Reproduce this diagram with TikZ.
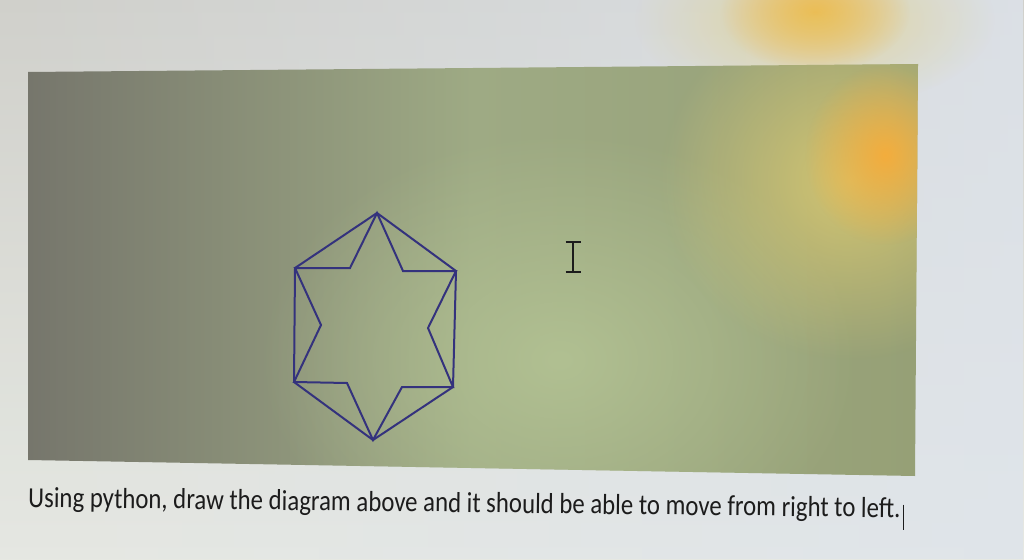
\documentclass[tikz,border=0pt]{standalone}
\usepackage{fontspec}
\usetikzlibrary{calc,fadings}
\setmainfont{Carlito}
\definecolor{paperT}{RGB}{208,208,203}
\definecolor{paperB}{RGB}{230,232,226}
\definecolor{paperR}{RGB}{222,228,236}
\definecolor{screenL}{RGB}{118,118,108}
\definecolor{screenM}{RGB}{158,170,132}
\definecolor{screenR}{RGB}{150,160,118}
\definecolor{screenLight}{RGB}{182,198,150}
\definecolor{glow}{RGB}{246,172,58}
\definecolor{glowY}{RGB}{226,205,110}
\definecolor{starblue}{RGB}{52,50,125}
\definecolor{ink}{RGB}{28,28,28}
\tikzfading[name=radfade, inner color=transparent!0, outer color=transparent!100]
\tikzfading[name=eastfade, left color=transparent!100, right color=transparent!0]
\tikzset{
  starline/.style={draw=starblue, line width=2pt, line join=miter},
  cursorline/.style={draw=ink, line width=1.4pt},
}
\begin{document}
\begin{tikzpicture}[x=1pt,y=-1pt]
\useasboundingbox (0,0) rectangle (1024,559);
% paper / screen background
\shade[top color=paperT, bottom color=paperB] (0,0) rectangle (1024,559);
\fill[paperR, path fading=eastfade, fill opacity=0.8] (0,0) rectangle (1024,559);
\fill[glow, path fading=radfade] (815,12) ellipse (95 and 60);
\fill[glowY, path fading=radfade, fill opacity=0.6] (815,20) ellipse (180 and 90);
% grey-green panel
\coordinate (P1) at (28,72);
\coordinate (P2) at (918,64);
\coordinate (P3) at (915,476);
\coordinate (P4) at (28,460);
\shade[left color=screenL, right color=screenR, middle color=screenM]
  (P1) -- (P2) -- (P3) -- (P4) -- cycle;
\begin{scope}
  \clip (P1) -- (P2) -- (P3) -- (P4) -- cycle;
  \fill[screenLight, path fading=radfade, fill opacity=0.8] (560,360) ellipse (300 and 230);
  \fill[glowY, path fading=radfade, fill opacity=0.8] (850,180) ellipse (190 and 180);
  \fill[glow, path fading=radfade, fill opacity=0.95] (885,155) ellipse (80 and 90);
\end{scope}
% hexagon vertices
\coordinate (T)  at (377,213);
\coordinate (UR) at (456,271);
\coordinate (LR) at (453,387);
\coordinate (B)  at (373,440);
\coordinate (LL) at (294,382);
\coordinate (UL) at (295,268);
% inner star vertices
\coordinate (iUR) at (403,271);
\coordinate (iR)  at (428,328);
\coordinate (iLR) at (402,387);
\coordinate (iLL) at (347,383);
\coordinate (iL)  at (321,325);
\coordinate (iUL) at (350,268);
\draw[starline] (T) -- (UR) -- (LR) -- (B) -- (LL) -- (UL) -- cycle;
\draw[starline] (T) -- (iUR) -- (UR) -- (iR) -- (LR) -- (iLR) -- (B)
  -- (iLL) -- (LL) -- (iL) -- (UL) -- (iUL) -- cycle;
% I-beam cursor
\coordinate (cT) at (573,242);
\coordinate (cB) at (573,272);
\draw[cursorline] (cT) -- (cB);
\draw[cursorline] ($(cT)+(-7.5,0)$) -- ($(cT)+(7.5,0)$);
\draw[cursorline] ($(cB)+(-7.5,0)$) -- ($(cB)+(7.5,0)$);
% caption
\node[rotate=-0.7, anchor=base west, text=ink, font=\fontsize{29}{32}\selectfont, inner sep=0pt] (cap) at (28,507)
  {\scalebox{0.855}[1]{Using python, draw the diagram above and it should be able to move from right to left.}};
\coordinate (barT) at ([xshift=3pt,yshift=13pt]cap.base east);
\coordinate (barB) at ([xshift=3pt,yshift=-12pt]cap.base east);
\draw[draw=ink, line width=1.2pt] (barT) -- (barB);
\end{tikzpicture}
\end{document}
